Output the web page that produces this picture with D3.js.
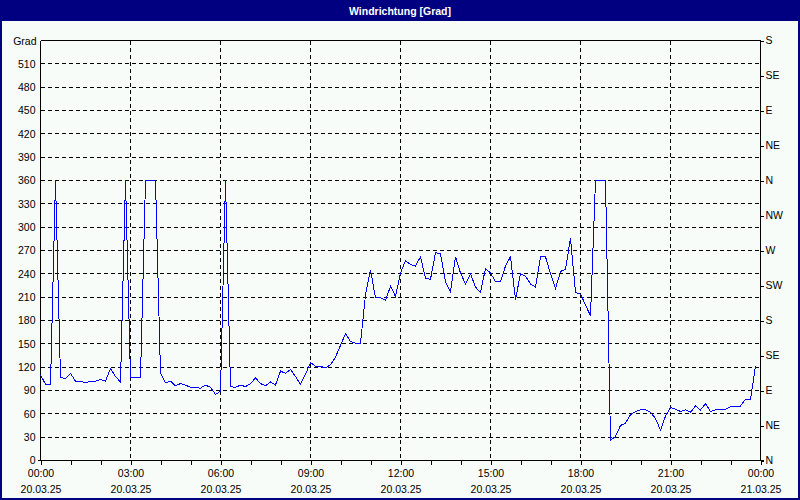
<!DOCTYPE html>
<html>
<head>
<meta charset="utf-8">
<script src="https://cdn.jsdelivr.net/npm/d3@7"></script>
<style>
  html, body { margin: 0; padding: 0; background: #F8FCF8; }
  svg { display: block; }
  text { font-family: "Liberation Sans", Arial, sans-serif; }
</style>
</head>
<body>
<svg id="chart" width="800" height="500"></svg>
<script>
// ---------- data ----------
const chartTitle = "Windrichtung [Grad]";
const unitLabel = "Grad";
const startTime = "2025-03-20T00:00";
const endTime = "2025-03-21T00:00";
const stepMinutes = 10;
// wind direction, one value every 10 minutes from 00:00 to 23:50
const windDir = [
  110, 98, 98, 360, 107, 105, 112, 102, 102, 100, 102, 102,
  104, 102, 118, 108, 101, 360, 107, 107, 107, 360, 360, 360,
  112, 100, 102, 96, 99, 97, 94, 94, 93, 97, 94, 85,
  89, 360, 95, 94, 97, 95, 99, 106, 99, 96, 101, 97,
  115, 112, 117, 108, 98, 111, 126, 121, 121, 119, 123, 133,
  148, 163, 153, 151, 151, 213, 245, 209, 209, 206, 224, 211,
  241, 257, 252, 250, 262, 234, 233, 267, 266, 230, 217, 262,
  241, 227, 240, 223, 216, 247, 241, 230, 230, 250, 262, 207,
  240, 237, 227, 223, 262, 262, 240, 221, 243, 246, 286, 216,
  214, 200, 186, 360, 360, 360, 26, 31, 45, 48, 59, 63,
  65, 65, 62, 54, 39, 57, 68, 66, 63, 65, 62, 70,
  65, 73, 63, 65, 66, 66, 69, 69, 70, 79, 78, 122
];
const leftTicks = [0, 30, 60, 90, 120, 150, 180, 210, 240, 270, 300, 330, 360, 390, 420, 450, 480, 510];
const rightTicks = [0, 45, 90, 135, 180, 225, 270, 315, 360, 405, 450, 495, 540];
const rightLabels = ["N", "NE", "E", "SE", "S", "SW", "W", "NW", "N", "NE", "E", "SE", "S"];
const yMax = 540;

// ---------- layout ----------
const W = 800, H = 500;
const plot = { left: 40.5, right: 760.5, top: 40.5, bottom: 460.5 };
const navy = "#000080";

const svg = d3.select("#chart");
const parse = d3.timeParse("%Y-%m-%dT%H:%M");
const t0 = parse(startTime), t1 = parse(endTime);
const points = windDir.map((v, i) => ({ t: d3.timeMinute.offset(t0, i * stepMinutes), v }));

const x = d3.scaleTime().domain([t0, t1]).range([plot.left, plot.right]);
const y = d3.scaleLinear().domain([0, yMax]).range([plot.bottom, plot.top]);

// background
svg.append("rect").attr("x", 0).attr("y", 0).attr("width", W).attr("height", H).attr("fill", "#F8FCF8");
// title bar
svg.append("rect").attr("x", 0).attr("y", 0).attr("width", W).attr("height", 21).attr("fill", navy);
svg.append("text").attr("x", W / 2).attr("y", 14.5).attr("text-anchor", "middle")
  .attr("fill", "#ffffff").attr("font-weight", "bold").attr("font-size", "10.5px")
  .text(chartTitle);
// outer frame
svg.append("rect").attr("x", 1).attr("y", 1).attr("width", W - 2).attr("height", H - 2)
  .attr("fill", "none").attr("stroke", navy).attr("stroke-width", 2);

// grid
const grid = svg.append("g").attr("stroke", "#000").attr("stroke-width", 1)
  .attr("stroke-dasharray", "4,3").attr("shape-rendering", "crispEdges");
grid.selectAll("line.h").data(leftTicks.filter(v => v > 0)).join("line")
  .attr("x1", plot.left).attr("x2", plot.right)
  .attr("y1", d => y(d)).attr("y2", d => y(d));
grid.selectAll("line.v").data(d3.timeHour.every(3).range(d3.timeMinute.offset(t0, 1), t1)).join("line")
  .attr("y1", plot.top).attr("y2", plot.bottom)
  .attr("x1", d => x(d)).attr("x2", d => x(d));

// frame lines
const frame = svg.append("g").attr("stroke", "#000").attr("shape-rendering", "crispEdges");
frame.append("line").attr("x1", plot.left).attr("x2", plot.right).attr("y1", plot.top).attr("y2", plot.top);
frame.append("line").attr("x1", plot.left).attr("x2", plot.left).attr("y1", plot.top).attr("y2", plot.bottom);
frame.append("line").attr("x1", plot.right).attr("x2", plot.right).attr("y1", plot.top).attr("y2", plot.bottom);
frame.append("line").attr("x1", plot.left - 3).attr("x2", plot.right + 3).attr("y1", plot.bottom).attr("y2", plot.bottom);

// data line
svg.append("path").datum(points)
  .attr("fill", "none").attr("stroke", "#0000FF").attr("stroke-width", 1)
  .attr("shape-rendering", "crispEdges")
  .attr("d", d3.line().x(d => x(d.t)).y(d => y(d.v)));

// left axis
const gl = svg.append("g").attr("transform", `translate(${plot.left},0)`)
  .call(d3.axisLeft(y).tickValues(leftTicks).tickSize(0).tickPadding(5));
gl.select(".domain").remove();
gl.selectAll("text").attr("font-size", "10.5px").attr("fill", "#000").attr("font-family", "Liberation Sans, Arial, sans-serif");
svg.append("text").attr("x", plot.left - 4).attr("y", y(yMax) + 4).attr("text-anchor", "end")
  .attr("font-size", "10.5px").attr("fill", "#000").text(unitLabel);

// right axis
const gr = svg.append("g").attr("transform", `translate(${plot.right},0)`)
  .call(d3.axisRight(y).tickValues(rightTicks).tickSize(3).tickPadding(2)
    .tickFormat((d, i) => rightLabels[i]));
gr.select(".domain").remove();
gr.selectAll("line").attr("shape-rendering", "crispEdges");
gr.selectAll("text").attr("font-size", "10.5px").attr("fill", "#000").attr("font-family", "Liberation Sans, Arial, sans-serif");

// bottom axis: minor hourly ticks
const gm = svg.append("g").attr("transform", `translate(0,${plot.bottom})`)
  .call(d3.axisBottom(x).ticks(d3.timeHour.every(1)).tickSize(4).tickFormat(""));
gm.select(".domain").remove();
gm.selectAll("line").attr("shape-rendering", "crispEdges");

// bottom axis labels
const fTime = d3.timeFormat("%H:%M"), fDate = d3.timeFormat("%d.%m.%y");
const gb = svg.append("g").attr("transform", `translate(0,${plot.bottom})`)
  .call(d3.axisBottom(x).ticks(d3.timeHour.every(3)).tickSize(0).tickPadding(0).tickFormat(""));
gb.select(".domain").remove();
gb.selectAll(".tick").each(function (d) {
  const t = d3.select(this).append("text").attr("fill", "#000").attr("font-size", "10.5px")
    .attr("text-anchor", "middle").attr("font-family", "Liberation Sans, Arial, sans-serif");
  t.append("tspan").attr("x", 0).attr("y", 16.5).text(fTime(d));
  t.append("tspan").attr("x", 0).attr("y", 32.5).text(fDate(d));
});
</script>
</body>
</html>
